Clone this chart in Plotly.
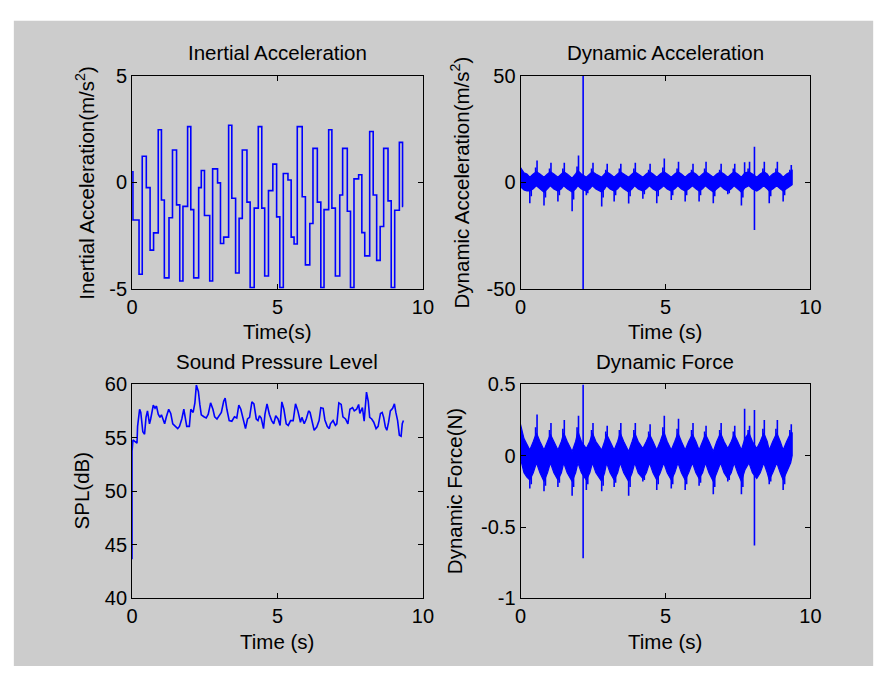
import plotly.graph_objects as go

# ---------------- data ----------------
ia_t = [0.00, 0.03, 0.24, 0.35, 0.49, 0.62, 0.74, 0.90, 1.01, 1.11, 1.27, 1.39, 1.53, 1.64, 1.75,
        1.91, 2.02, 2.12, 2.29, 2.38, 2.49, 2.67, 2.77, 2.94, 3.04, 3.15, 3.32, 3.43, 3.56, 3.68,
        3.79, 3.95, 4.06, 4.20, 4.34, 4.46, 4.56, 4.69, 4.84, 4.97, 5.08, 5.20, 5.36, 5.47, 5.57,
        5.68, 5.85, 5.96, 6.11, 6.22, 6.37, 6.49, 6.60, 6.76, 6.87, 6.99, 7.14, 7.24, 7.40, 7.51,
        7.63, 7.79, 7.90, 8.00, 8.17, 8.29, 8.41, 8.53, 8.65, 8.80, 8.91, 9.03, 9.19, 9.30, 9.32]
ia_v = [0.50, -1.76, -4.30, 1.23, -0.24, -3.17, -2.36, 2.47, -0.82, -4.47, -1.65, 1.52, -1.05, -4.62, -1.12,
        2.62, -1.27, -4.47, -0.24, 0.56, -1.55, -4.62, 0.64, -0.02, -2.86, -2.56, 2.68, -0.74, -4.24, -1.68,
        1.52, -0.92, -4.92, -1.20, 2.62, -1.20, -4.38, -0.38, 0.86, -1.61, -4.92, 0.42, 0.12, -2.56, -2.88,
        2.62, -0.67, -3.86, -1.92, 1.60, -0.92, -4.92, -1.27, 2.47, -1.20, -4.38, -0.59, 1.60, -1.35, -4.92,
        0.17, 0.36, -2.35, -3.44, 2.39, -0.59, -3.65, -2.06, 1.60, -0.86, -4.92, -1.30, 1.88, -1.12, -1.12]

# Dynamic signals: dense vibration band (time, upper edge, lower edge)
band_t = [0.00, 0.12, 0.22,
          0.32, 0.44, 0.55, 0.67,
          0.81, 0.93, 1.03, 1.15,
          1.29, 1.41, 1.49, 1.61,
          1.78, 1.90, 1.98, 2.10,
          2.27, 2.39, 2.48, 2.60,
          2.80, 2.90, 2.97, 3.09,
          3.23, 3.35, 3.44, 3.56,
          3.73, 3.85, 3.94, 4.06,
          4.22, 4.34, 4.45, 4.57,
          4.70, 4.82, 4.94, 5.06,
          5.20, 5.32, 5.43, 5.55,
          5.68, 5.80, 5.93, 6.05,
          6.16, 6.28, 6.38, 6.50,
          6.65, 6.77, 6.90, 7.02,
          7.15, 7.27, 7.37, 7.49,
          7.62, 7.74, 7.88, 8.00,
          8.15, 8.27, 8.39, 8.51,
          8.58, 8.70, 8.84, 8.96,
          9.06, 9.18, 9.32, 9.37]
acc_band_hi = [7.0, 4.5, 4.0,
               2.5, 4.0, 5.0, 4.0,
               2.5, 4.0, 5.0, 4.0,
               2.5, 4.0, 5.0, 4.0,
               2.0, 4.0, 5.5, 4.0,
               2.5, 4.0, 5.0, 4.0,
               2.5, 4.0, 5.0, 4.0,
               2.5, 4.0, 5.0, 4.0,
               2.5, 4.0, 5.0, 4.0,
               2.5, 4.0, 5.0, 4.0,
               2.5, 4.0, 5.0, 4.0,
               2.5, 4.0, 5.0, 4.0,
               2.5, 4.0, 5.0, 4.0,
               2.5, 4.0, 5.0, 4.0,
               2.5, 4.0, 5.0, 4.0,
               2.5, 4.0, 5.0, 4.0,
               2.5, 4.5, 5.0, 4.0,
               2.5, 4.0, 5.0, 4.0,
               2.5, 4.0, 5.0, 4.0,
               2.5, 4.0, 5.0, 6.0]
acc_band_lo = [-2.0, -3.5, -4.0,
               -4.0, -3.0, -1.5, -3.0,
               -4.5, -3.0, -1.5, -3.0,
               -4.0, -3.0, -1.5, -3.0,
               -4.5, -3.0, -1.5, -3.0,
               -4.0, -3.0, -1.5, -3.0,
               -4.5, -3.0, -1.5, -3.0,
               -4.0, -3.0, -1.5, -3.0,
               -4.5, -3.0, -1.5, -3.0,
               -4.0, -3.0, -1.5, -3.0,
               -4.0, -3.0, -1.5, -3.0,
               -4.0, -3.0, -1.5, -3.0,
               -4.0, -3.0, -1.5, -3.0,
               -4.0, -3.0, -1.5, -3.0,
               -4.5, -3.0, -1.5, -3.0,
               -4.0, -3.0, -1.5, -3.0,
               -4.5, -2.5, -1.5, -3.0,
               -4.0, -3.0, -1.5, -3.0,
               -4.0, -3.0, -1.5, -3.0,
               -4.0, -3.0, -1.5, -1.0]
force_band_hi = [0.22, 0.12, 0.08,
                 0.04, 0.10, 0.16, 0.10,
                 0.04, 0.10, 0.15, 0.10,
                 0.04, 0.10, 0.16, 0.10,
                 0.03, 0.10, 0.17, 0.10,
                 0.05, 0.10, 0.16, 0.10,
                 0.04, 0.10, 0.15, 0.10,
                 0.04, 0.10, 0.16, 0.10,
                 0.03, 0.10, 0.16, 0.10,
                 0.05, 0.10, 0.15, 0.10,
                 0.04, 0.10, 0.17, 0.10,
                 0.04, 0.10, 0.16, 0.10,
                 0.04, 0.10, 0.15, 0.10,
                 0.04, 0.10, 0.15, 0.10,
                 0.03, 0.10, 0.16, 0.10,
                 0.05, 0.10, 0.15, 0.10,
                 0.04, 0.12, 0.16, 0.10,
                 0.05, 0.10, 0.16, 0.10,
                 0.04, 0.10, 0.16, 0.10,
                 0.04, 0.10, 0.16, 0.16]
force_band_lo = [-0.02, -0.12, -0.15,
                 -0.17, -0.12, -0.05, -0.12,
                 -0.18, -0.12, -0.05, -0.12,
                 -0.17, -0.12, -0.05, -0.12,
                 -0.18, -0.12, -0.05, -0.12,
                 -0.17, -0.12, -0.05, -0.12,
                 -0.18, -0.12, -0.05, -0.12,
                 -0.17, -0.12, -0.05, -0.12,
                 -0.18, -0.12, -0.05, -0.12,
                 -0.16, -0.12, -0.05, -0.12,
                 -0.17, -0.12, -0.05, -0.12,
                 -0.17, -0.12, -0.05, -0.12,
                 -0.17, -0.12, -0.05, -0.12,
                 -0.16, -0.12, -0.05, -0.12,
                 -0.18, -0.12, -0.05, -0.12,
                 -0.16, -0.12, -0.05, -0.12,
                 -0.18, -0.10, -0.05, -0.12,
                 -0.16, -0.12, -0.05, -0.12,
                 -0.17, -0.12, -0.05, -0.12,
                 -0.17, -0.12, -0.05, 0.00]

# Dynamic signals: main spikes above / below the band
up_t = [0.57, 1.05, 1.51, 2.00, 2.16, 2.50, 2.99, 3.46, 3.96, 4.47, 4.96,
        5.45, 5.95, 6.40, 6.92, 7.39, 7.73, 7.90, 8.07, 8.41, 8.86, 9.34]
acc_up_v = [10.3, 9.2, 9.2, 12.6, 50.0, 9.2, 8.8, 8.8, 9.2, 8.8, 11.2,
            9.7, 8.8, 9.7, 8.8, 8.8, 9.5, 9.7, 16.8, 9.7, 9.7, 8.2]
force_up_v = [0.29, 0.23, 0.25, 0.28, 0.50, 0.23, 0.21, 0.23, 0.23, 0.22, 0.28,
              0.26, 0.23, 0.21, 0.23, 0.21, 0.33, 0.21, 0.32, 0.25, 0.25, 0.22]
dn_t = [0.32, 0.81, 1.29, 1.78, 2.16, 2.27, 2.80, 3.23, 3.73, 4.22,
        4.70, 5.20, 5.68, 6.16, 6.65, 7.15, 7.62, 8.07, 8.58, 9.06]
acc_dn_v = [-9.7, -10.8, -8.9, -13.5, -50.0, -6.0, -11.2, -8.9, -9.8, -7.6,
            -9.7, -8.2, -8.9, -8.9, -9.7, -5.5, -10.8, -22.3, -9.7, -8.9]
force_dn_v = [-0.23, -0.25, -0.22, -0.28, -0.72, -0.24, -0.25, -0.22, -0.28, -0.18,
              -0.24, -0.23, -0.24, -0.21, -0.27, -0.18, -0.27, -0.63, -0.20, -0.24]

# Dynamic signals: secondary (shorter) spikes
up2_t = [0.52, 1.00, 1.46, 1.95, 2.45, 2.94, 3.41, 3.91, 4.42, 4.91,
         5.40, 5.90, 6.35, 6.87, 7.34, 7.85, 8.36, 8.81, 9.29]
acc_up2_v = [7.0, 6.5, 6.5, 7.5, 6.5, 6.0, 6.5, 6.5, 6.0, 7.0,
             6.5, 6.0, 6.5, 6.0, 6.5, 6.5, 6.5, 6.5, 6.0]
force_up2_v = [0.20, 0.18, 0.19, 0.20, 0.18, 0.17, 0.18, 0.18, 0.17, 0.20,
               0.19, 0.18, 0.17, 0.18, 0.17, 0.18, 0.19, 0.19, 0.18]
dn2_t = [0.37, 0.86, 1.34, 1.83, 2.32, 2.85, 3.28, 3.78, 4.27,
         4.75, 5.25, 5.73, 6.21, 6.70, 7.20, 7.67, 8.63, 9.11]
acc_dn2_v = [-6.5, -7.0, -6.0, -8.0, -5.0, -7.0, -6.0, -6.5, -5.5,
             -6.5, -6.0, -6.0, -6.0, -6.5, -5.0, -7.0, -6.5, -6.0]
force_dn2_v = [-0.20, -0.21, -0.19, -0.22, -0.20, -0.21, -0.19, -0.22, -0.17,
               -0.20, -0.20, -0.20, -0.19, -0.22, -0.17, -0.22, -0.18, -0.20]

# Sound pressure level
spl_t = [0.00, 0.00, 0.03, 0.17, 0.19, 0.26, 0.30, 0.37, 0.43, 0.48, 0.53, 0.60, 0.64, 0.73, 0.79,
         0.84, 0.90, 0.96, 1.01, 1.07, 1.12, 1.18, 1.26, 1.33, 1.40, 1.49, 1.57, 1.63, 1.71, 1.78,
         1.83, 1.88, 1.97, 2.02, 2.10, 2.16, 2.21, 2.28, 2.33, 2.38, 2.47, 2.55, 2.62, 2.70, 2.78,
         2.84, 2.92, 3.00, 3.07, 3.15, 3.20, 3.26, 3.34, 3.43, 3.52, 3.60, 3.67, 3.74, 3.82, 3.90,
         3.97, 4.04, 4.12, 4.19, 4.27, 4.33, 4.38, 4.44, 4.52, 4.57, 4.64, 4.72, 4.80, 4.87, 4.94,
         5.02, 5.09, 5.15, 5.22, 5.30, 5.37, 5.45, 5.54, 5.62, 5.70, 5.79, 5.84, 5.92, 5.99, 6.07,
         6.12, 6.18, 6.26, 6.35, 6.43, 6.49, 6.57, 6.63, 6.71, 6.78, 6.82, 6.91, 6.99, 7.04, 7.11,
         7.19, 7.25, 7.34, 7.42, 7.49, 7.58, 7.64, 7.72, 7.79, 7.83, 7.92, 7.98, 8.06, 8.12, 8.17,
         8.24, 8.31, 8.39, 8.46, 8.54, 8.60, 8.65, 8.71, 8.76, 8.82, 8.88, 8.96, 9.02, 9.07, 9.13,
         9.19, 9.25, 9.29, 9.33]
spl_v = [43.65, 53.76, 54.81, 54.51, 56.08, 57.68, 57.38, 55.57, 55.35, 56.92, 57.53, 56.32, 56.77, 58.07, 57.77,
         57.98, 57.22, 56.92, 57.16, 56.77, 56.32, 56.98, 57.68, 57.29, 56.32, 56.08, 55.87, 56.08, 56.77, 57.68,
         56.92, 56.08, 56.08, 57.68, 57.38, 58.28, 59.94, 59.34, 58.13, 57.16, 56.98, 56.86, 57.22, 58.28, 57.68,
         56.98, 56.77, 57.07, 57.38, 58.43, 58.73, 57.68, 56.62, 56.56, 56.98, 56.86, 58.07, 57.68, 56.62, 55.87,
         56.77, 56.92, 58.37, 58.19, 56.77, 56.62, 57.07, 56.86, 55.87, 57.22, 58.19, 57.22, 56.62, 56.32, 57.07,
         56.77, 56.17, 58.37, 57.68, 56.32, 56.17, 56.62, 56.62, 58.19, 57.53, 56.47, 56.92, 56.32, 56.77, 57.53,
         57.38, 56.56, 55.72, 56.02, 56.62, 57.83, 57.77, 56.68, 56.08, 55.87, 56.32, 56.62, 56.17, 56.32, 58.28,
         58.13, 56.98, 56.77, 56.32, 57.68, 57.83, 57.53, 57.68, 58.13, 57.29, 57.83, 56.56, 59.28, 58.43, 56.92,
         56.77, 56.47, 55.87, 56.08, 57.29, 57.38, 56.92, 56.02, 55.72, 56.47, 57.53, 57.77, 58.19, 57.38, 56.62,
         55.26, 55.17, 56.32, 56.62]

# Tick values / labels
x_ticks = [0, 5, 10]
x_labels = ["0", "5", "10"]
ia_ticks = [-5, 0, 5]
ia_labels = ["-5", "0", "5"]
da_ticks = [-50, 0, 50]
da_labels = ["-50", "0", "50"]
spl_ticks = [40, 45, 50, 55, 60]
spl_labels = ["40", "45", "50", "55", "60"]
df_ticks = [-1, -0.5, 0, 0.5]
df_labels = ["-1", "-0.5", "0", "0.5"]

assert len(ia_t) == len(ia_v)
assert len(band_t) == len(acc_band_hi) == len(acc_band_lo) == len(force_band_hi) == len(force_band_lo)
assert len(up_t) == len(acc_up_v) == len(force_up_v)
assert len(dn_t) == len(acc_dn_v) == len(force_dn_v)
assert len(up2_t) == len(acc_up2_v) == len(force_up2_v)
assert len(dn2_t) == len(acc_dn2_v) == len(force_dn2_v)
assert len(spl_t) == len(spl_v)

# ---------------- figure ----------------
W, H = 894, 677
BLUE = "#0000ff"
FONT = "Liberation Sans, Arial, sans-serif"
TXT = 20.5
TICK = 20


def px(x):
    return x / W


def py(y):
    return 1 - y / H


def spikes(ts, vs):
    xs, ys = [], []
    for t, v in zip(ts, vs):
        xs += [t, t, None]
        ys += [0, v, None]
    return xs, ys


fig = go.Figure()
fig.add_trace(go.Scatter(x=ia_t, y=ia_v, mode="lines", line=dict(color=BLUE, width=1.6, shape="hv"),
                         xaxis="x", yaxis="y", hoverinfo="skip"))

dyn_sets = [
    (acc_band_hi, acc_band_lo, [(up_t, acc_up_v), (dn_t, acc_dn_v), (up2_t, acc_up2_v), (dn2_t, acc_dn2_v)], "x2", "y2"),
    (force_band_hi, force_band_lo, [(up_t, force_up_v), (dn_t, force_dn_v), (up2_t, force_up2_v), (dn2_t, force_dn2_v)], "x4", "y4"),
]
for hi, lo, spk, xa, ya in dyn_sets:
    fig.add_trace(go.Scatter(x=band_t + band_t[::-1], y=hi + lo[::-1], mode="lines", fill="toself",
                             fillcolor=BLUE, line=dict(color=BLUE, width=1.2),
                             xaxis=xa, yaxis=ya, hoverinfo="skip"))
    for ts, vs in spk:
        sx, sy = spikes(ts, vs)
        fig.add_trace(go.Scatter(x=sx, y=sy, mode="lines", line=dict(color=BLUE, width=1.6),
                                 xaxis=xa, yaxis=ya, hoverinfo="skip"))

fig.add_trace(go.Scatter(x=spl_t, y=spl_v, mode="lines", line=dict(color=BLUE, width=1.6),
                         xaxis="x3", yaxis="y3", hoverinfo="skip"))

XL = [px(128.5), px(425)]
XR = [px(524.5), px(820)]
YT = [py(287.5), py(67)]
YB = [py(607), py(386)]

axis_style = dict(showline=True, linecolor="black", linewidth=1, mirror="ticks", ticks="inside",
                  ticklen=5, tickcolor="black", tickwidth=1, showgrid=False, zeroline=False,
                  tickfont=dict(family=FONT, size=TICK, color="black"), fixedrange=True)

fig.update_layout(
    width=W, height=H, autosize=False,
    margin=dict(l=0, r=0, t=0, b=0),
    paper_bgcolor="white", plot_bgcolor="white", showlegend=False,
    font=dict(family=FONT, size=TXT, color="black"),
    xaxis=dict(domain=XL, anchor="y", range=[0, 10], tickvals=x_ticks, ticktext=x_labels, **axis_style),
    yaxis=dict(domain=YT, anchor="x", range=[-5, 5], tickvals=ia_ticks, ticktext=ia_labels, **axis_style),
    xaxis2=dict(domain=XR, anchor="y2", range=[0, 10], tickvals=x_ticks, ticktext=x_labels, **axis_style),
    yaxis2=dict(domain=YT, anchor="x2", range=[-50, 50], tickvals=da_ticks, ticktext=da_labels, **axis_style),
    xaxis3=dict(domain=XL, anchor="y3", range=[0, 10], tickvals=x_ticks, ticktext=x_labels, **axis_style),
    yaxis3=dict(domain=YB, anchor="x3", range=[40, 60], tickvals=spl_ticks, ticktext=spl_labels, **axis_style),
    xaxis4=dict(domain=XR, anchor="y4", range=[0, 10], tickvals=x_ticks, ticktext=x_labels, **axis_style),
    yaxis4=dict(domain=YB, anchor="x4", range=[-1, 0.5], tickvals=df_ticks, ticktext=df_labels, **axis_style),
)

# grey figure background
fig.add_shape(type="rect", xref="paper", yref="paper", x0=px(8), x1=px(884), y0=0, y1=py(10),
              fillcolor="#cccccc", line=dict(width=0), layer="below")

texts = [
    ("Inertial Acceleration", (128.5 + 425) / 2, 43, 0),
    ("Dynamic Acceleration", (524.5 + 820) / 2, 43, 0),
    ("Sound Pressure Level", (128.5 + 425) / 2, 362, 0),
    ("Dynamic Force", (524.5 + 820) / 2, 362, 0),
    ("Time(s)", (128.5 + 425) / 2, 331, 0),
    ("Time (s)", (524.5 + 820) / 2, 331, 0),
    ("Time (s)", (128.5 + 425) / 2, 652, 0),
    ("Time (s)", (524.5 + 820) / 2, 652, 0),
    ("Inertial Acceleration(m/s<sup>2</sup>)", 81, 177, -90),
    ("Dynamic Acceleration(m/s<sup>2</sup>)", 463, 177, -90),
    ("SPL(dB)", 77, 496, -90),
    ("Dynamic Force(N)", 458, 496, -90),
]
for txt, x, y, ang in texts:
    fig.add_annotation(text=txt, x=px(x), y=py(y), xref="paper", yref="paper", showarrow=False,
                       xanchor="center", yanchor="middle", textangle=ang,
                       font=dict(family=FONT, size=TXT, color="black"))

fig.write_html(
    "out.html",
    config={"displayModeBar": False, "staticPlot": True},
    post_script=(
        "var d=document.getElementById('{plot_id}');"
        "d.style.position='fixed';d.style.left='0px';d.style.top='0px';"
        "document.body.style.margin='0px';document.body.style.padding='0px';"
        "document.body.style.overflow='hidden';document.documentElement.style.overflow='hidden';"
    ),
)
